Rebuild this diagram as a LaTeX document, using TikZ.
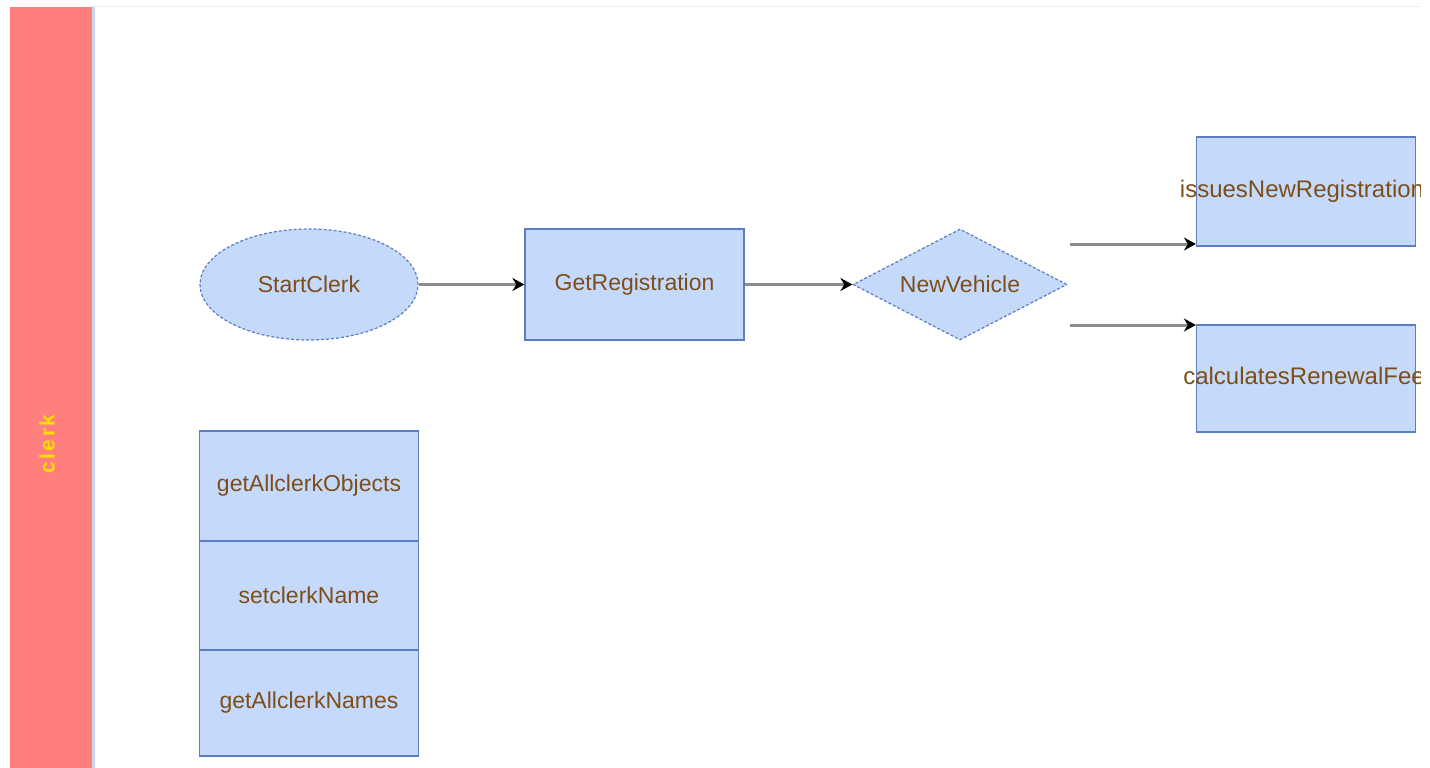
\documentclass[tikz,border=0pt]{standalone}
\usepackage{fontspec}
\setmainfont{Liberation Sans}
\usetikzlibrary{arrows.meta,shapes.geometric}
\definecolor{lane}{RGB}{255,127,127}
\definecolor{laneedge}{RGB}{200,216,240}
\definecolor{topline}{RGB}{232,238,246}
\definecolor{boxfill}{RGB}{197,217,251}
\definecolor{boxline}{RGB}{90,125,195}
\definecolor{txt}{RGB}{125,78,25}
\definecolor{lanetxt}{RGB}{255,222,0}
\definecolor{wire}{RGB}{140,140,140}
% label wider than its box: let it spill over both sides, set slightly high
\newcommand{\overflowtext}[2]{\raisebox{5pt}{\makebox[0pt][c]{\hspace*{#1}#2}}}
\tikzset{
  base/.style={fill=boxfill, draw=boxline, line width=1.2pt, text=txt,
    font=\fontsize{23}{25}\selectfont, inner sep=0pt},
  actbox/.style={base, rectangle, minimum width=219pt},
  startnode/.style={base, ellipse, dashed, dash pattern=on 3pt off 2pt,
    minimum width=218pt, minimum height=111pt},
  choice/.style={base, diamond, dashed, dash pattern=on 3pt off 2pt,
    minimum width=214pt, minimum height=111pt, aspect=1.93},
  flow/.style={draw=wire, line width=3pt,
    -{Stealth[color=black, length=12pt, width=13pt]}}
}
\begin{document}
\begin{tikzpicture}[x=1pt, y=-1pt]
  \useasboundingbox (0,0) rectangle (1430,768);
  \clip (0,0) rectangle (1420,768);
  % swimlane header
  \fill[lane] (10,7) rectangle (92,768);
  \fill[laneedge] (92,7) rectangle (95,768);
  \draw[topline, line width=1.5pt] (92,6.5) -- (1420,6.5);
  \node[rotate=90, text=lanetxt, font=\fontsize{21}{23}\selectfont\bfseries\addfontfeature{LetterSpace=12}]
    (lanelabel) at (47,444) {clerk};

  % main flow
  \node[startnode] (start) at (309,284.5) {StartClerk};
  \node[actbox, minimum height=111pt] (getreg) at (634.5,284.5) {GetRegistration};
  \node[choice] (newveh) at (960,284.5) {NewVehicle};
  \node[actbox, minimum height=109pt, font=\fontsize{24}{26}\selectfont] (issues) at (1306,191.5)
    {\overflowtext{-8pt}{issuesNewRegistration}};
  \node[actbox, minimum height=107pt, font=\fontsize{24}{26}\selectfont] (renew) at (1306,378.5)
    {\overflowtext{-4pt}{calculatesRenewalFee}};

  \draw[flow] (start) -- (getreg);
  \draw[flow] (getreg) -- (newveh);
  \coordinate (outA) at (1070,244);
  \coordinate (outB) at (1070,325);
  \draw[flow] (outA) -- (outA -| issues.west);
  \draw[flow] (outB) -- (outB -| renew.west);

  % operations stack
  \node[actbox, minimum height=110pt] (opA) at (309,486) {getAllclerkObjects};
  \node[actbox, minimum height=109pt] (opB) at (309,595.5) {setclerkName};
  \node[actbox, minimum height=106pt] (opC) at (309,703) {getAllclerkNames};
\end{tikzpicture}
\end{document}
